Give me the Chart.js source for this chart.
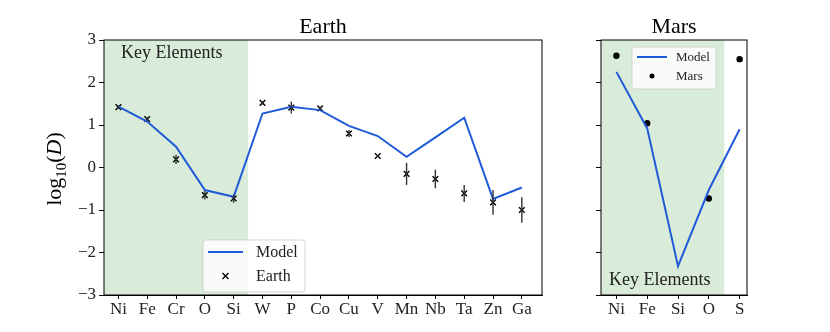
<!DOCTYPE html>
<html lang="en">
<head>
    <meta charset="UTF-8">
    <title>Earth and Mars partitioning</title>
    <script src="https://cdn.jsdelivr.net/npm/chart.js@4.4.0/dist/chart.umd.min.js"></script>
    <style>
        html, body { margin: 0; padding: 0; background: #fff; }
        .panel { position: absolute; top: 0; height: 332px; }
        #earthBox { left: 0; width: 560px; }
        #marsBox { left: 560px; width: 270px; }
    </style>
</head>
<body>
    <div class="panel" id="earthBox"><canvas id="earth"></canvas></div>
    <div class="panel" id="marsBox"><canvas id="mars"></canvas></div>

    <script>
        // Values
        const earthNames = ["Ni", "Fe", "Cr", "O", "Si", "W", "P", "Co", "Cu", "V", "Mn", "Nb", "Ta", "Zn", "Ga"];
        const earthModel = [1.43, 1.08, 0.49, -0.53, -0.69, 1.27, 1.43, 1.35, 0.98, 0.74, 0.25, 0.71, 1.17, -0.74, -0.47];
        const earthObs   = [1.42, 1.14, 0.19, -0.65, -0.73, 1.52, 1.41, 1.39, 0.80, 0.27, -0.15, -0.27, -0.61, -0.82, -1.00];
        const earthErr   = [0.04, 0.04, 0.11, 0.10, 0.10, 0.04, 0.14, 0.04, 0.08, 0.02, 0.26, 0.22, 0.20, 0.29, 0.30];

        const marsNames = ["Ni", "Fe", "Si", "O", "S"];
        const marsModel = [2.25, 0.92, -2.32, -0.53, 0.90];
        const marsObs   = [2.63, 1.04, null, -0.73, 2.55];

        const yTicks = [-3, -2, -1, 0, 1, 2, 3];
        const earthKeySpan = [-0.5, 4.5];
        const marsKeySpan = [-0.5, 3.5];

        const serif = "'Liberation Serif', 'DejaVu Serif', serif";
        const blue = "#1f5ad8";
        const green = "rgb(217,236,217)";

        function pts(vals) {
            return vals.map((v, i) => ({ x: i, y: v })).filter(p => p.y !== null);
        }

        // Shaded "key elements" band, frame, error bars and custom legend
        function decorPlugin(opts) {
            return {
                id: "decor",
                beforeDatasetsDraw(chart) {
                    const { ctx, chartArea: a, scales: { x } } = chart;
                    ctx.save();
                    ctx.fillStyle = green;
                    const x0 = x.getPixelForValue(opts.span[0]);
                    const x1 = x.getPixelForValue(opts.span[1]);
                    ctx.fillRect(x0, a.top, x1 - x0, a.bottom - a.top);
                    ctx.fillStyle = "#222";
                    ctx.font = "18px " + serif;
                    ctx.textBaseline = "alphabetic";
                    ctx.fillText("Key Elements", a.left + opts.keyText[0], a.top + opts.keyText[1]);
                    ctx.restore();
                },
                afterDatasetsDraw(chart) {
                    const { ctx, chartArea: a, scales: { x, y } } = chart;
                    ctx.save();
                    if (opts.err) {
                        ctx.strokeStyle = "#333";
                        ctx.lineWidth = 1.4;
                        opts.obs.forEach((v, i) => {
                            const px = x.getPixelForValue(i);
                            ctx.beginPath();
                            ctx.moveTo(px, y.getPixelForValue(v - opts.err[i]));
                            ctx.lineTo(px, y.getPixelForValue(v + opts.err[i]));
                            ctx.stroke();
                        });
                    }
                    // legend
                    const L = opts.legend;
                    const bx = a.left + L.x, by = a.top + L.y;
                    ctx.fillStyle = "rgba(255,255,255,0.8)";
                    ctx.strokeStyle = "rgba(204,204,204,0.8)";
                    ctx.lineWidth = 1;
                    ctx.beginPath();
                    ctx.roundRect(bx, by, L.w, L.h, 3);
                    ctx.fill();
                    ctx.stroke();
                    ctx.strokeStyle = blue;
                    ctx.lineWidth = 2;
                    ctx.beginPath();
                    ctx.moveTo(bx + L.lineX[0], by + L.row1);
                    ctx.lineTo(bx + L.lineX[1], by + L.row1);
                    ctx.stroke();
                    const mx = bx + (L.lineX[0] + L.lineX[1]) / 2, my = by + L.row2;
                    ctx.strokeStyle = "#000";
                    ctx.fillStyle = "#000";
                    ctx.lineWidth = 1.4;
                    if (L.marker === "x") {
                        ctx.beginPath();
                        ctx.moveTo(mx - 3, my - 3); ctx.lineTo(mx + 3, my + 3);
                        ctx.moveTo(mx + 3, my - 3); ctx.lineTo(mx - 3, my + 3);
                        ctx.stroke();
                    } else {
                        ctx.beginPath();
                        ctx.arc(mx, my, 2.5, 0, Math.PI * 2);
                        ctx.fill();
                    }
                    ctx.fillStyle = "#222";
                    ctx.font = L.font + "px " + serif;
                    ctx.textBaseline = "middle";
                    ctx.fillText("Model", bx + L.textX, by + L.row1 + 1);
                    ctx.fillText(L.label, bx + L.textX, by + L.row2 + 1);
                    // frame
                    ctx.strokeStyle = "#000";
                    ctx.lineWidth = 1;
                    ctx.strokeRect(a.left, a.top, a.right - a.left, a.bottom - a.top);
                    ctx.restore();
                },
                afterDraw(chart) {
                    if (!opts.yTitle) return;
                    const { ctx } = chart;
                    ctx.save();
                    ctx.translate(61, 169);
                    ctx.rotate(-Math.PI / 2);
                    ctx.fillStyle = "#000";
                    ctx.textBaseline = "alphabetic";
                    const parts = [
                        ["log", "22px " + serif, 0],
                        ["10", "15px " + serif, 5],
                        ["(", "22px " + serif, 0],
                        ["D", "italic 22px " + serif, 0],
                        [")", "22px " + serif, 0]
                    ];
                    let total = 0;
                    parts.forEach(p => { ctx.font = p[1]; total += ctx.measureText(p[0]).width; });
                    let cx = -total / 2;
                    parts.forEach(p => {
                        ctx.font = p[1];
                        ctx.fillText(p[0], cx, p[2]);
                        cx += ctx.measureText(p[0]).width;
                    });
                    ctx.restore();
                }
            };
        }

        function makeChart(id, cfg) {
            const names = cfg.names;
            return new Chart(document.getElementById(id), {
                type: "scatter",
                data: {
                    datasets: [
                        {
                            label: "Model",
                            data: pts(cfg.model),
                            showLine: true,
                            borderColor: blue,
                            borderWidth: 2,
                            pointRadius: 0,
                            tension: 0
                        },
                        {
                            label: cfg.obsLabel,
                            data: pts(cfg.obs),
                            pointStyle: cfg.pointStyle,
                            pointRadius: cfg.pointRadius,
                            borderColor: "#000",
                            backgroundColor: "#000",
                            borderWidth: 1.4
                        }
                    ]
                },
                options: {
                    responsive: true,
                    maintainAspectRatio: false,
                    animation: false,
                    layout: { padding: { left: 0, right: cfg.padRight, top: 0, bottom: 0 } },
                    plugins: {
                        legend: { display: false },
                        tooltip: { enabled: false },
                        title: {
                            display: true,
                            text: cfg.title,
                            fullSize: false,
                            color: "#000",
                            font: { family: serif, size: 22, weight: "normal" },
                            padding: { top: 13.6, bottom: 0 }
                        }
                    },
                    scales: {
                        x: {
                            type: "linear",
                            min: -0.5,
                            max: cfg.xMax,
                            afterBuildTicks: s => { s.ticks = names.map((_, i) => ({ value: i })); },
                            afterFit: s => { s.height = 37; },
                            grid: { drawOnChartArea: false, color: "#000", tickLength: 4 },
                            border: { color: "#000" },
                            ticks: {
                                autoSkip: false,
                                maxRotation: 0,
                                padding: 0,
                                color: "#222",
                                font: { family: serif, size: 17 },
                                callback: v => names[v]
                            }
                        },
                        y: {
                            min: -3,
                            max: 3,
                            afterBuildTicks: s => { s.ticks = yTicks.map(v => ({ value: v })); },
                            afterFit: s => { s.width = cfg.yWidth; },
                            grid: { drawOnChartArea: false, color: "#000", tickLength: 5 },
                            border: { color: "#000" },
                            ticks: {
                                padding: 3,
                                color: "#222",
                                font: { family: serif, size: 17 },
                                callback: v => cfg.showYLabels ? String(v).replace("-", "\u2212") : ""
                            }
                        }
                    }
                },
                plugins: [decorPlugin(cfg.decor)]
            });
        }

        makeChart("earth", {
            names: earthNames, model: earthModel, obs: earthObs, obsLabel: "Earth",
            title: "Earth", pointStyle: "crossRot", pointRadius: 4,
            padRight: 18, yWidth: 104, xMax: 14.7, showYLabels: true,
            decor: {
                span: earthKeySpan, keyText: [17, 18], err: earthErr, obs: earthObs, yTitle: true,
                legend: { x: 99, y: 200, w: 102, h: 52, lineX: [5, 40], textX: 53, row1: 12, row2: 36, font: 16, label: "Earth", marker: "x" }
            }
        });

        makeChart("mars", {
            names: marsNames, model: marsModel, obs: marsObs, obsLabel: "Mars",
            title: "Mars", pointStyle: "circle", pointRadius: 2.5,
            padRight: 83, yWidth: 41, xMax: 4.24, showYLabels: false,
            decor: {
                span: marsKeySpan, keyText: [8, 245], err: null, obs: marsObs, yTitle: false,
                legend: { x: 31, y: 7, w: 84, h: 42, lineX: [5, 35], textX: 44, row1: 10, row2: 29, font: 13, label: "Mars", marker: "dot" }
            }
        });
    </script>
</body>
</html>
